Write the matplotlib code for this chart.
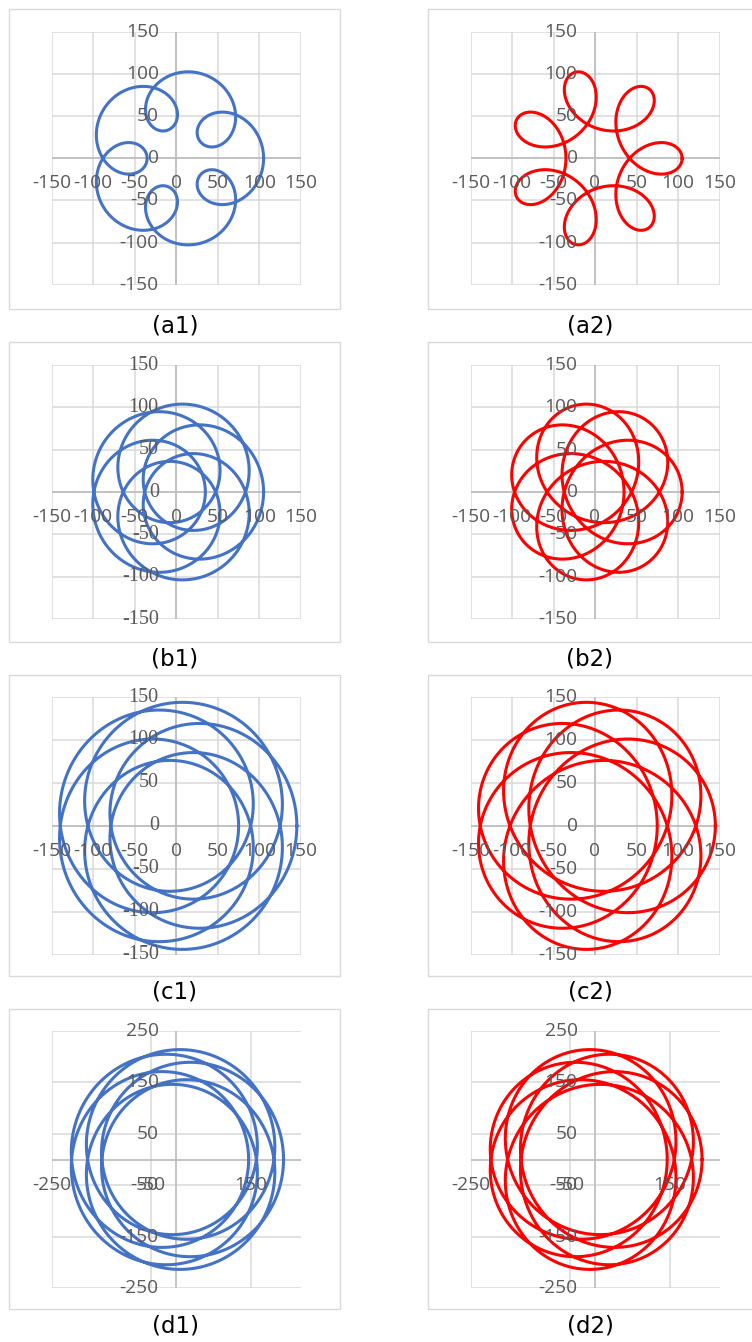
import numpy as np
import matplotlib
matplotlib.use("Agg")
import matplotlib.pyplot as plt
from matplotlib.patches import Rectangle

# Trochoid curves z(t) = R * e^{it} + r * e^{i k t}
row_names = ["a", "b", "c", "d"]
slow_radius = [70, 35, 35, 35]        # R of the slowly turning arm, per row
fast_radius = [35, 70, 110, 180]      # r of the fast turning arm, per row
fast_freq = [6, -6]                   # k: co-rotating (column 1) / counter-rotating (column 2)
line_colors = ["#4472C4", "#FF0000"]

axis_limit = [150, 150, 150, 250]
x_ticks = [
    [-150, -100, -50, 0, 50, 100, 150],
    [-150, -100, -50, 0, 50, 100, 150],
    [-150, -100, -50, 0, 50, 100, 150],
    [-250, -50, 150],
]
y_ticks = [
    [-150, -100, -50, 0, 50, 100, 150],
    [-150, -100, -50, 0, 50, 100, 150],
    [-150, -100, -50, 0, 50, 100, 150],
    [-250, -150, -50, 50, 150, 250],
]

W, H = 752, 1342
fig = plt.figure(figsize=(W / 100, H / 100), dpi=100)
fig.patch.set_facecolor("white")


def fig_rect(left, top, right, bottom):
    return [left / W, 1 - bottom / H, (right - left) / W, (bottom - top) / H]


# plot-area extents in pixels (left, top, right, bottom)
col_x = [(51.5, 301.0), (470.5, 719.5)]
row_y = [(32.0, 284.7), (365.0, 619.0), (697.0, 954.7), (1031.0, 1288.0)]
# chart frame extents
frame_x = [(9, 340), (428, 760)]
frame_y = [(9, 309), (341.5, 642), (675, 976), (1008.5, 1309)]
caption_x = [175, 590]
caption_y = [326, 659, 992, 1326]

tick_font = ["Open Sans", "DejaVu Sans"]
serif_font = ["Liberation Serif", "DejaVu Serif"]
label_color = "#595959"

t = np.linspace(0, 2 * np.pi, 3000)

for i, name in enumerate(row_names):
    for j in range(2):
        # chart frame
        fx0, fx1 = frame_x[j]
        fy0, fy1 = frame_y[i]
        fig.patches.append(Rectangle((fx0 / W, 1 - fy1 / H), (fx1 - fx0) / W, (fy1 - fy0) / H,
                                     transform=fig.transFigure, fill=False,
                                     edgecolor="#D9D9D9", lw=1.0))

        ax = fig.add_axes(fig_rect(col_x[j][0], row_y[i][0], col_x[j][1], row_y[i][1]))
        lim = axis_limit[i]
        ax.set_xlim(-lim, lim)
        ax.set_ylim(-lim, lim)
        for s in ax.spines.values():
            s.set_visible(False)
        ax.set_xticks(x_ticks[i])
        ax.set_yticks(y_ticks[i])
        ax.tick_params(length=0, labelbottom=False, labelleft=False)
        ax.grid(True, color="#D9D9D9", lw=1.1, zorder=0)
        ax.set_axisbelow(True)
        ax.axhline(0, color="#BFBFBF", lw=1.3, zorder=1)
        ax.axvline(0, color="#BFBFBF", lw=1.3, zorder=1)

        z = slow_radius[i] * np.exp(1j * t) + fast_radius[i] * np.exp(1j * fast_freq[j] * t)
        ax.plot(z.real, z.imag, color=line_colors[j], lw=2.2, zorder=3,
                solid_joinstyle="round", clip_on=False)

        yfam = serif_font if (j == 0 and name in ("b", "c")) else tick_font
        ysize = 14.5 if yfam is serif_font else 13.8
        for v in y_ticks[i]:
            ax.annotate(f"{v}", xy=(0, v), xytext=(-17.5, 0), textcoords="offset pixels",
                        ha="right", va="center", fontsize=ysize, family=yfam,
                        color=label_color, zorder=5, annotation_clip=False)
        for v in x_ticks[i]:
            ax.annotate(f"{v}", xy=(v, 0), xytext=(0, -25), textcoords="offset pixels",
                        ha="center", va="center", fontsize=13.8, family=tick_font,
                        color=label_color, zorder=5, annotation_clip=False)

        fig.text(caption_x[j] / W, 1 - caption_y[i] / H, f"({name}{j + 1})",
                 ha="center", va="center", fontsize=16.5, family="DejaVu Sans",
                 color="black")

fig.savefig("out.png", dpi=100, facecolor="white")
